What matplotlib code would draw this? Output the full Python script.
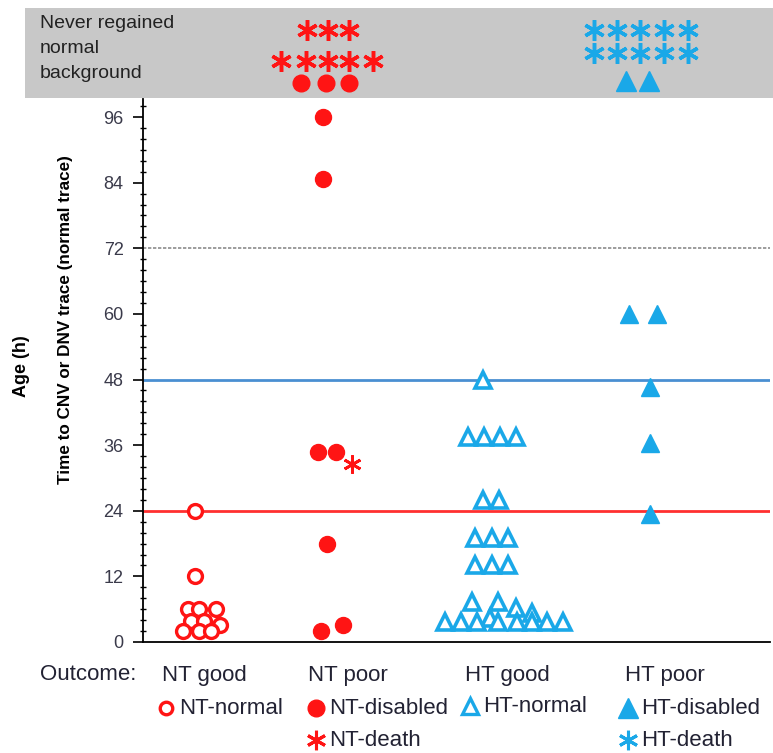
import numpy as np
import matplotlib
matplotlib.use('Agg')
import matplotlib.pyplot as plt
from matplotlib.patches import Rectangle

plt.rcParams['font.family'] = ['Liberation Sans', 'DejaVu Sans']

RED = '#ff1414'
BLUE = '#1aa8e8'

# groups on the x axis (x unit ~ one marker width)
groups = ['NT good', 'NT poor', 'HT good', 'HT poor']
group_x = [3.5, 11.5, 22.3, 31.7]

# NT good -> NT-normal (open circles)
nt_normal_dx = [-0.25, -0.25, -0.7, 0, 1.06, -0.5, 0.3, 1.3, -1.0, 0, 0.75]
nt_normal_h = [24, 12, 6, 6, 6, 3.8, 3.8, 3.1, 2, 2, 2]

# NT poor -> NT-disabled (filled circles), NT-death (asterisk)
nt_disabled_dx = [-0.25, -0.25, -0.56, 0.56, 0, 1.0, -0.375]
nt_disabled_h = [96, 84.6, 34.7, 34.7, 17.9, 3.1, 2.0]
nt_death_dx = [1.56]
nt_death_h = [32.5]

# HT good -> HT-normal (open triangles)
ht_normal_dx = [-1.06, -2, -1, 0, 1, -1.06, -0.06, -1.56, -0.5, 0.5,
                -1.56, -0.5, 0.5, -1.7, -0.1, 1.0, 2.0, -0.6,
                -3.44, -2.4, -1.44, -0.1, 1.06, 2.0, 2.94, 3.94]
ht_normal_h = [48, 37.5, 37.5, 37.5, 37.5, 26, 26, 19, 19, 19,
               14, 14, 14, 7.3, 7.3, 6.2, 5.3, 4.4,
               3.6, 3.6, 3.6, 3.6, 3.6, 3.6, 3.6, 3.6]

# HT poor -> HT-disabled (filled triangles)
ht_disabled_dx = [-1.3, 0.44, 0, 0, 0]
ht_disabled_h = [60, 60, 46.7, 36.4, 23.4]

# never regained normal background (top band)
nt_never_death_dx = [[-1.25, 0.06, 1.4], [-2.9, -1.3, 0.06, 1.4, 2.9]]
nt_never_disabled_dx = [-1.6, -0.06, 1.4]
ht_never_death_dx = [[-3.5, -2.06, -0.6, 0.9, 2.4], [-3.5, -2.06, -0.6, 0.9, 2.4]]
ht_never_disabled_dx = [-1.5, -0.06]

yticks = [0, 12, 24, 36, 48, 60, 72, 84, 96]

W, H = 773, 753
fig = plt.figure(figsize=(W / 100, H / 100), dpi=100)

# main axes
ax = fig.add_axes([143 / W, (H - 642) / H, 627 / W, 543 / H])
ax.set_xlim(0, 39.2)
ax.set_ylim(0, 99.3)
for s in ['top', 'right']:
    ax.spines[s].set_visible(False)
ax.spines['left'].set_linewidth(1.3)
ax.spines['bottom'].set_linewidth(1.3)
ax.set_xticks([])
ax.set_yticks(yticks)
ax.set_yticks(np.arange(0, 99, 2), minor=True)
ax.tick_params(axis='y', which='major', direction='out', length=7, width=1.2, pad=7,
               labelsize=13, labelcolor='#3a3a4a')
ax.tick_params(axis='y', which='minor', direction='inout', length=4, width=1)

ax.axhline(72, color='#8c8c8c', lw=1.2, ls=(0, (2, 1)), zorder=1)
ax.axhline(48, color='#4a8fd2', lw=2, zorder=1)
ax.axhline(24, color='#ff3030', lw=2, zorder=1)

def xs(g, dx):
    return [group_x[g] + d for d in dx]

ax.plot(xs(0, nt_normal_dx), nt_normal_h, 'o', ms=10, mfc='white', mec=RED, mew=2.4, ls='none', zorder=3)
ax.plot(xs(1, nt_disabled_dx), nt_disabled_h, 'o', ms=11.5, color=RED, ls='none', zorder=3)
ax.plot(xs(1, nt_death_dx), nt_death_h, marker=(6, 2, 0), ms=13, mec=RED, mew=2, ls='none', zorder=3)
ax.plot(xs(2, ht_normal_dx), ht_normal_h, '^', ms=11.5, mfc='white', mec=BLUE, mew=2.6, ls='none', zorder=3)
ax.plot(xs(3, ht_disabled_dx), ht_disabled_h, '^', ms=13, color=BLUE, ls='none', zorder=3)

# top band
fig.add_artist(Rectangle((25 / W, (H - 98) / H), 748 / W, 90 / H, transform=fig.transFigure,
                         facecolor='#c8c8c8', edgecolor='none', zorder=0))
bx = fig.add_axes([143 / W, (H - 98) / H, 627 / W, 90 / H])
bx.set_xlim(0, 39.2)
bx.set_ylim(0, 1)
bx.axis('off')
nt_rows = [0.756, 0.414]
for row, dx in zip(nt_rows, nt_never_death_dx):
    bx.plot(xs(1, dx), [row] * len(dx), marker=(6, 2, 0), ms=15, mec=RED, mew=2.5, ls='none')
bx.plot(xs(1, nt_never_disabled_dx), [0.163] * 3, 'o', ms=12, color=RED, ls='none')
ht_rows = [0.756, 0.497]
for row, dx in zip(ht_rows, ht_never_death_dx):
    bx.plot(xs(3, dx), [row] * len(dx), marker=(6, 2, 0), ms=15, mec=BLUE, mew=2.5, ls='none')
bx.plot(xs(3, ht_never_disabled_dx), [0.192] * 2, '^', ms=14, color=BLUE, ls='none')

fig.text(40 / W, 1 - 15 / H, 'Never regained\nnormal\nbackground', fontsize=14,
         color='#222222', va='top', ha='left', linespacing=1.6)

# y labels
fig.text(22 / W, 1 - 366 / H, 'Age (h)', rotation=90, fontsize=13, fontweight='bold',
         ha='center', va='center')
fig.text(66 / W, 1 - 320 / H, 'Time to CNV or DNV trace (normal trace)', rotation=90,
         fontsize=12.3, fontweight='bold', ha='center', va='center')

# outcome row + legend
TXT = '#222233'
fig.text(40 / W, 1 - 675 / H, 'Outcome:', fontsize=16, color=TXT, va='center')
for lab, px in zip(groups, [162, 308, 465, 625]):
    fig.text(px / W, 1 - 675 / H, lab, fontsize=16, color=TXT, va='center')

lx = fig.add_axes([0, 0, 1, 1])
lx.set_xlim(0, W)
lx.set_ylim(H, 0)
lx.axis('off')
legend_items = [
    (166, 708, dict(marker='o', ms=9, mfc='white', mec=RED, mew=2.4), 'NT-normal'),
    (316, 708, dict(marker='o', ms=12, color=RED), 'NT-disabled'),
    (316, 740, dict(marker=(6, 2, 0), ms=14, mec=RED, mew=2.2), 'NT-death'),
    (470, 706, dict(marker='^', ms=11, mfc='white', mec=BLUE, mew=2.4), 'HT-normal'),
    (628, 708, dict(marker='^', ms=15, color=BLUE), 'HT-disabled'),
    (628, 740, dict(marker=(6, 2, 0), ms=14, mec=BLUE, mew=2.2), 'HT-death'),
]
for px, py, style, lab in legend_items:
    lx.plot([px], [py], ls='none', **style)
    lx.text(px + 13, py, lab, fontsize=16, color=TXT, va='center')

fig.savefig('out.png', dpi=100)
